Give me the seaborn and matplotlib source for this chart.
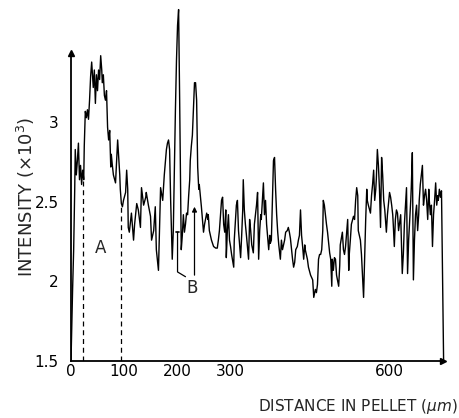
import matplotlib

matplotlib.use("Agg")
import matplotlib.pyplot as plt
import numpy as np
import pandas as pd
import seaborn as sns

# intensity profile (distance in um, intensity x10^3)
distance = [
    0, 3, 5, 7, 8, 10, 12, 14, 16, 18,
    20, 22, 24, 25, 27, 29, 31, 33, 35, 37,
    39, 41, 42, 44, 46, 48, 50, 52, 54, 56,
    58, 59, 61, 63, 65, 67, 69, 71, 73, 75,
    76, 78, 80, 84, 86, 88, 90, 92, 93, 95,
    97, 99, 103, 105, 107, 108, 110, 114, 118, 120,
    124, 127, 131, 133, 137, 141, 142, 146, 150, 152,
    156, 159, 161, 165, 167, 169, 173, 176, 180, 182,
    184, 186, 188, 190, 191, 193, 195, 197, 199, 201,
    203, 205, 207, 208, 210, 212, 214, 216, 218, 220,
    222, 224, 225, 227, 229, 231, 233, 235, 237, 239,
    241, 242, 244, 246, 248, 250, 252, 256, 258, 259,
    261, 265, 269, 273, 276, 278, 280, 282, 284, 286,
    288, 290, 292, 293, 295, 297, 299, 301, 303, 307,
    308, 312, 314, 316, 320, 322, 324, 325, 327, 329,
    331, 335, 337, 339, 341, 344, 346, 350, 352, 354,
    356, 358, 359, 361, 363, 365, 367, 369, 373, 375,
    376, 378, 380, 382, 384, 386, 388, 390, 392, 395,
    397, 399, 401, 403, 405, 408, 410, 412, 414, 418,
    420, 422, 424, 427, 429, 431, 433, 435, 437, 439,
    441, 442, 444, 446, 448, 452, 456, 458, 461, 463,
    465, 467, 469, 471, 473, 475, 476, 478, 480, 482,
    484, 488, 490, 492, 493, 495, 497, 499, 501, 505,
    507, 508, 512, 514, 516, 518, 522, 524, 525, 527,
    529, 533, 535, 537, 539, 541, 542, 546, 548, 550,
    552, 554, 556, 558, 559, 561, 565, 567, 569, 571,
    573, 575, 576, 578, 580, 582, 584, 586, 588, 590,
    592, 595, 597, 601, 603, 605, 607, 608, 610, 612,
    614, 616, 618, 622, 623, 625, 627, 629, 633, 635,
    637, 641, 642, 644, 646, 648, 650, 652, 654, 656,
    657, 659, 663, 665, 667, 669, 671, 673, 675, 676,
    678, 680, 682, 684, 686, 688, 690, 692, 693, 695,
    697, 699, 703,
]
intensity = [
    1.50, 1.95, 2.20, 2.58, 2.83, 2.67, 2.76, 2.87, 2.64, 2.73,
    2.61, 2.70, 2.64, 2.85, 3.07, 3.03, 3.08, 3.02, 3.14, 3.29,
    3.38, 3.27, 3.22, 3.33, 3.12, 3.30, 3.20, 3.33, 3.27, 3.42,
    3.33, 3.25, 3.30, 3.17, 3.14, 3.20, 2.97, 2.89, 2.95, 2.72,
    2.80, 2.73, 2.67, 2.62, 2.76, 2.89, 2.78, 2.67, 2.58, 2.49,
    2.47, 2.51, 2.56, 2.70, 2.58, 2.34, 2.31, 2.43, 2.26, 2.36,
    2.49, 2.45, 2.34, 2.59, 2.48, 2.53, 2.56, 2.48, 2.41, 2.26,
    2.32, 2.47, 2.20, 2.07, 2.32, 2.59, 2.51, 2.67, 2.83, 2.87,
    2.89, 2.83, 2.51, 2.26, 2.14, 2.32, 2.70, 3.08, 3.39, 3.61,
    3.71, 3.14, 2.51, 2.20, 2.29, 2.42, 2.31, 2.36, 2.43, 2.42,
    2.54, 2.64, 2.76, 2.85, 2.92, 3.08, 3.25, 3.25, 3.14, 2.72,
    2.58, 2.61, 2.54, 2.47, 2.39, 2.31, 2.36, 2.43, 2.39, 2.42,
    2.32, 2.26, 2.22, 2.21, 2.21, 2.26, 2.32, 2.42, 2.51, 2.53,
    2.36, 2.31, 2.45, 2.15, 2.32, 2.42, 2.26, 2.22, 2.17, 2.09,
    2.26, 2.48, 2.51, 2.32, 2.15, 2.29, 2.45, 2.64, 2.45, 2.36,
    2.29, 2.14, 2.39, 2.32, 2.23, 2.18, 2.36, 2.48, 2.56, 2.14,
    2.32, 2.42, 2.39, 2.51, 2.62, 2.42, 2.51, 2.36, 2.20, 2.29,
    2.24, 2.26, 2.51, 2.76, 2.78, 2.58, 2.42, 2.31, 2.23, 2.14,
    2.26, 2.20, 2.23, 2.26, 2.31, 2.32, 2.34, 2.31, 2.27, 2.14,
    2.09, 2.12, 2.20, 2.22, 2.26, 2.29, 2.45, 2.29, 2.22, 2.14,
    2.23, 2.20, 2.17, 2.14, 2.09, 2.04, 2.01, 1.90, 1.95, 1.93,
    1.98, 2.14, 2.17, 2.17, 2.20, 2.32, 2.51, 2.48, 2.42, 2.36,
    2.31, 2.18, 2.14, 1.97, 2.14, 2.07, 2.15, 2.14, 2.04, 1.97,
    2.10, 2.23, 2.31, 2.20, 2.17, 2.22, 2.39, 2.07, 2.17, 2.26,
    2.36, 2.41, 2.39, 2.51, 2.59, 2.54, 2.32, 2.26, 2.17, 2.04,
    1.90, 2.14, 2.39, 2.58, 2.51, 2.48, 2.43, 2.54, 2.61, 2.70,
    2.51, 2.58, 2.64, 2.83, 2.73, 2.58, 2.34, 2.78, 2.67, 2.51,
    2.45, 2.31, 2.42, 2.56, 2.53, 2.48, 2.42, 2.36, 2.22, 2.39,
    2.45, 2.43, 2.32, 2.42, 2.29, 2.05, 2.17, 2.36, 2.59, 2.05,
    2.26, 2.51, 2.59, 2.81, 2.01, 2.26, 2.42, 2.48, 2.32, 2.42,
    2.51, 2.61, 2.73, 2.48, 2.54, 2.58, 2.51, 2.39, 2.58, 2.51,
    2.42, 2.48, 2.22, 2.42, 2.51, 2.62, 2.48, 2.54, 2.51, 2.58,
    2.53, 2.57, 1.50,
]

x_ticks = [0, 100, 200, 300, 600]
x_tick_labels = ["0", "100", "200", "300", "600"]
y_ticks = [1.5, 2, 2.5, 3]
y_tick_labels = ["1.5", "2", "2.5", "3"]
zone_a = [23, 95]
peak_b = [201, 233]

sns.set_theme(style="white")
plt.rcParams["font.family"] = ["DejaVu Sans"]

fig = plt.figure(figsize=(4.59, 4.18), dpi=100)
ax = fig.add_axes([0.1547, 0.1364, 0.8314, 0.8559])

profile = pd.DataFrame({"distance": distance, "intensity": intensity})
sns.lineplot(data=profile, x="distance", y="intensity", sort=False,
             estimator=None, color="black", lw=1.0, ax=ax)

ax.set_xlim(0, 720)
ax.set_ylim(1.5, 3.75)
ax.set_xlabel("")
ax.set_ylabel("")
for side in ["top", "right"]:
    ax.spines[side].set_visible(False)
for side in ["left", "bottom"]:
    ax.spines[side].set_color("black")
    ax.spines[side].set_linewidth(1.3)
ax.spines["left"].set_bounds(1.5, 3.42)
ax.spines["bottom"].set_bounds(0, 699)
ax.plot([0], [3.44], marker="^", ms=5, color="black", clip_on=False)
ax.plot([701], [1.5], marker=">", ms=5, color="black", clip_on=False)

ax.set_xticks(x_ticks)
ax.set_xticklabels(x_tick_labels)
ax.set_yticks(y_ticks)
ax.set_yticklabels(y_tick_labels)
ax.tick_params(axis="x", direction="inout", length=4, width=1, pad=0.5,
               labelsize=11, colors="black")
ax.tick_params(axis="y", direction="out", length=3, width=1, pad=6,
               labelsize=11, colors="black")

# dashed limits of zone A
for xa in zone_a:
    top = np.interp(xa, distance, intensity)
    ax.plot([xa, xa], [1.5, top], color="black", lw=0.9, ls=(0, (4, 3)))
ax.text(np.mean(zone_a) - 3, 2.21, "A", fontsize=12, ha="center", va="center")

# markers for B
b_left, b_right = peak_b
ax.plot([b_left, b_left, b_left + 15], [2.31, 2.06, 2.03], color="black", lw=0.9)
ax.plot([b_left - 3, b_left + 3], [2.31, 2.31], color="black", lw=1.2)
ax.annotate("", xy=(b_right, 2.47), xytext=(b_right, 2.04),
            arrowprops=dict(arrowstyle="-|>", color="black", lw=0.9,
                            mutation_scale=7, shrinkA=0, shrinkB=0))
ax.text(b_right - 4, 1.96, "B", fontsize=12, ha="center", va="center")

fig.text(0.056, 0.53, "INTENSITY (×10$^3$)", rotation=90, fontsize=13,
         ha="center", va="center")
fig.text(0.997, 0.027, r"DISTANCE IN PELLET ($\mu m$)", fontsize=11,
         ha="right", va="center")

fig.savefig("out.png", dpi=100)
